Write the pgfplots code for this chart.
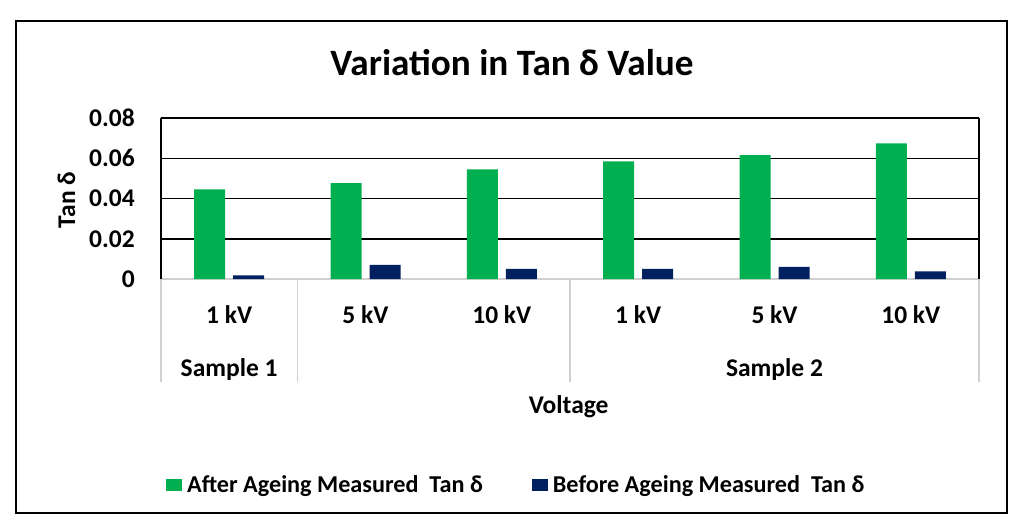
\documentclass[border=0pt]{standalone}
\usepackage{pgfplots}
\pgfplotsset{compat=1.18}
\usepackage{fontspec}
\setmainfont{Carlito}
\definecolor{cgreen}{HTML}{00B050}
\definecolor{cnavy}{HTML}{002060}
\definecolor{sepgray}{HTML}{D0D0D0}
\newcommand{\lbl}{\fontsize{25.5bp}{30bp}\selectfont\bfseries}
\newcommand{\lgd}{\fontsize{24.2bp}{30bp}\selectfont\bfseries}
\begin{document}
\begin{tikzpicture}
\path[use as bounding box] (0,0) rectangle (1015bp,-526bp);
\draw[line width=1.3bp] (16bp,-21bp) rectangle (1007bp,-513bp);
\node[anchor=base, font=\fontsize{37.2bp}{42bp}\selectfont\bfseries] at (512bp,-75bp) {Variation in Tan δ Value};
\node[anchor=base, rotate=90, font=\lbl] at (75bp,-200bp) {Tan δ};
\begin{axis}[
  at={(161bp,-279bp)}, anchor=south west,
  width=818bp, height=161bp, scale only axis,
  xmin=-0.5, xmax=5.5, ymin=0, ymax=0.08,
  axis line style={draw=none},
  major tick length=0pt,
  scaled y ticks=false,
  xtick={0,1,2,3,4,5}, xticklabels={1 kV,5 kV,10 kV,1 kV,5 kV,10 kV},
  ytick={0,0.02,0.04,0.06,0.08}, yticklabels={0,0.02,0.04,0.06,0.08},
  ymajorgrids, grid style={black, line width=1.5bp},
  xticklabel style={anchor=base, yshift=-44bp, inner sep=0pt, font=\lbl},
  yticklabel style={anchor=east, xshift=-26bp, inner sep=0pt, font=\lbl},
  clip=false,
  legend style={at={(0.0061,-1.2795)}, anchor=west, draw=none, fill=none, inner sep=0pt,
    font=\lgd, /tikz/every even column/.append style={column sep=47bp}, cells={anchor=west}},
  legend columns=2,
  legend image code/.code={\fill[#1] (0bp,-6bp) rectangle (16bp,6bp); \path (19bp,0bp);},
]
\draw[sepgray, line width=1.3bp] (axis cs:-0.5,0) -- (axis cs:5.5,0);
\draw[sepgray, line width=1.3bp] (axis cs:-0.5,0) -- ([yshift=-103bp]axis cs:-0.5,0);
\draw[sepgray, line width=1.3bp] (axis cs:0.5,0) -- ([yshift=-103bp]axis cs:0.5,0);
\draw[sepgray, line width=1.3bp] (axis cs:2.5,0) -- ([yshift=-103bp]axis cs:2.5,0);
\draw[sepgray, line width=1.3bp] (axis cs:5.5,0) -- ([yshift=-103bp]axis cs:5.5,0);
\draw[black, line width=1.5bp] (rel axis cs:0,0) -- (rel axis cs:0,1);
\draw[black, line width=1.5bp] (rel axis cs:1,0) -- (rel axis cs:1,1);
\addplot[ybar, bar width=31bp, bar shift=-19.5bp, fill=cgreen, draw=none]
  coordinates {(0,0.0446) (1,0.0476) (2,0.0545) (3,0.0585) (4,0.0615) (5,0.0674)};
\addlegendentry{After Ageing Measured\ \ Tan δ}
\addplot[ybar, bar width=31bp, bar shift=19.5bp, fill=cnavy, draw=none]
  coordinates {(0,0.0018) (1,0.0070) (2,0.0050) (3,0.0050) (4,0.0060) (5,0.0038)};
\addlegendentry{Before Ageing Measured\ \ Tan δ}
\node[anchor=base, font=\lbl, yshift=-97bp] at (axis cs:0,0) {Sample 1};
\node[anchor=base, font=\lbl, yshift=-97bp] at (axis cs:4,0) {Sample 2};
\node[anchor=base, font=\lbl, yshift=-134bp] at (axis cs:2.49,0) {Voltage};
\end{axis}
\end{tikzpicture}
\end{document}
